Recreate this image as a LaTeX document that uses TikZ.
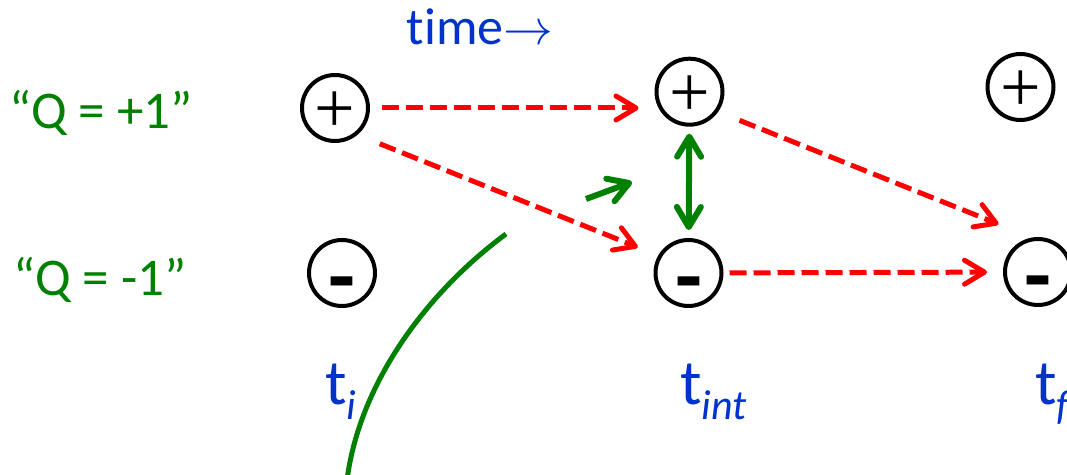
\documentclass[tikz,border=0pt]{standalone}
\usepackage{fontspec}
\setmainfont{Carlito}[Ligatures={TeX,NoCommon}]
\newfontfamily\plusfont{Liberation Serif}
\usepackage{xcolor}
\usetikzlibrary{arrows.meta, positioning, calc}

\definecolor{qgreen}{RGB}{0,128,0}
\definecolor{tblue}{RGB}{0,51,204}

\newcommand{\tlabel}[1]{t\raisebox{-7.5pt}{\fontsize{21}{21}\selectfont\itshape #1}}

\begin{document}
\begin{tikzpicture}[
  x=0.5pt, y=-0.5pt,
  state/.style={circle, draw=black, line width=2pt, minimum size=33pt, inner sep=0pt},
  plus/.style={state, font=\fontsize{36}{36}\selectfont\plusfont},
  minus/.style={state, font=\fontsize{44}{44}\selectfont\bfseries},
  qlabel/.style={text=qgreen, font=\fontsize{26.5}{26.5}\selectfont},
  tlab/.style={anchor=base west, text=tblue, font=\fontsize{32}{32}\selectfont},
  flow/.style={-{Straight Barb[length=10pt, width=12pt, round]}, red, line width=2.5pt, dash pattern=on 8.5pt off 3.5pt},
  swap/.style={{Straight Barb[length=10pt, width=12pt, round]}-{Straight Barb[length=10pt, width=12pt, round]}, qgreen, line width=3pt}
]
  \useasboundingbox (0,0) rectangle (1067,475);

  % States
  \node[plus]  (tip)   at (335,108)   {\raisebox{-12.5pt}[0pt][0pt]{+}};
  \node[minus] (tim)   at (342,273)   {\raisebox{-17pt}[0pt][0pt]{-}};
  \node[plus]  (tintp) at (689.5,91.7) {\raisebox{-12.5pt}[0pt][0pt]{+}};
  \node[minus] (tintm) at (688.5,273) {\raisebox{-17pt}[0pt][0pt]{-}};
  \node[plus]  (tfp)   at (1020.5,87) {\raisebox{-12.5pt}[0pt][0pt]{+}};
  \node[minus] (tfm)   at (1038,272)  {\raisebox{-17pt}[0pt][0pt]{-}};

  % Labels
  \node[qlabel] (qp) at (101,113) {“Q = +1”};
  \node[qlabel] (qm) at (100,280) {“Q = -1”};
  \node[text=tblue, font=\fontsize{26}{26}\selectfont] (time) at (480,27) {time$\rightarrow$};
  \node[tlab] (ti)   at (318,405)  {\tlabel{i}};
  \node[tlab] (tint) at (673,405)  {\tlabel{int}};
  \node[tlab] (tf)   at (1028,405) {\tlabel{f}};

  % Transitions
  \draw[flow, shorten <=6pt, shorten >=8pt] (tip.east) -- (tip.east -| tintp.west);
  \draw[flow, shorten <=12pt, shorten >=11pt] (tip.-50) -- (tintm.150);
  \draw[flow, shorten <=11.5pt, shorten >=18pt] (tintp.-35) -- (tfm.100);
  \draw[flow, shorten <=3pt, shorten >=8pt] (tintm) -- (tfm);

  % Mixing
  \draw[swap, shorten <=3.5pt, shorten >=4pt] (tintp) -- (tintm);

  % Green arrow and curve
  \coordinate (g1) at (586,199);
  \coordinate (g2) at (632,182);
  \draw[-{Straight Barb[length=10pt, width=12pt, round]}, qgreen, line width=3pt] (g1) -- (g2);
  \coordinate (c1) at (506,234);
  \coordinate (c2) at (347,480);
  \draw[qgreen, line width=2.5pt] (c1) .. controls (430,290) and (360,380) .. (c2);
\end{tikzpicture}
\end{document}
